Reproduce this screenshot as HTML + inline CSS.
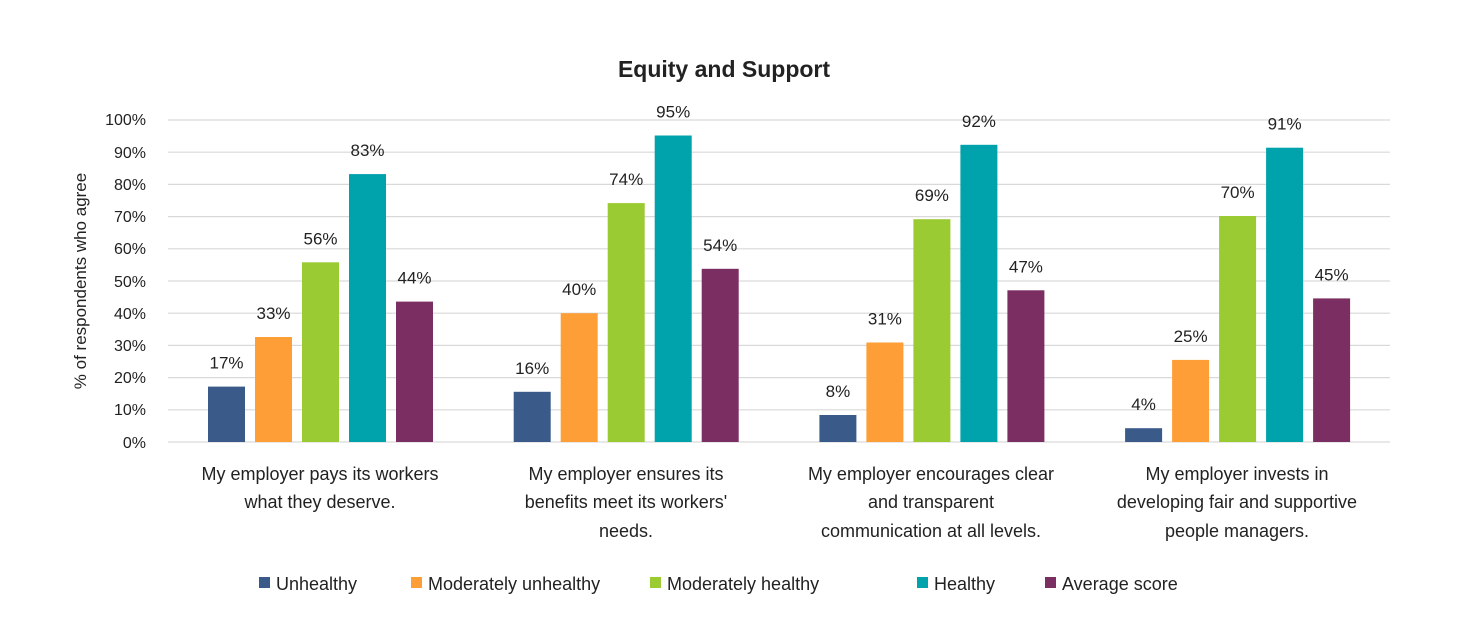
<!DOCTYPE html>
<html><head><meta charset="utf-8"><style>
body{margin:0;background:#fff;}
svg text{font-family:"Liberation Sans",sans-serif;fill:#222;}
</style></head><body>
<svg width="1470" height="634" xmlns="http://www.w3.org/2000/svg">
<rect width="1470" height="634" fill="#fff"/>
<text x="724" y="77" font-size="23" text-anchor="middle" font-weight="bold">Equity and Support</text>
<g stroke="#d9d9d9" stroke-width="1.2">
<line x1="168" x2="1390" y1="120" y2="120"/><line x1="168" x2="1390" y1="152.2" y2="152.2"/>
<line x1="168" x2="1390" y1="184.4" y2="184.4"/><line x1="168" x2="1390" y1="216.6" y2="216.6"/>
<line x1="168" x2="1390" y1="248.8" y2="248.8"/><line x1="168" x2="1390" y1="281" y2="281"/>
<line x1="168" x2="1390" y1="313.2" y2="313.2"/><line x1="168" x2="1390" y1="345.4" y2="345.4"/>
<line x1="168" x2="1390" y1="377.6" y2="377.6"/><line x1="168" x2="1390" y1="409.8" y2="409.8"/>
<line x1="168" x2="1390" y1="442" y2="442"/>
</g>
<g font-size="16" text-anchor="end">
<text x="146" y="125">100%</text><text x="146" y="158">90%</text><text x="146" y="190">80%</text>
<text x="146" y="222">70%</text><text x="146" y="254">60%</text><text x="146" y="287">50%</text>
<text x="146" y="319">40%</text><text x="146" y="351">30%</text><text x="146" y="383">20%</text>
<text x="146" y="415">10%</text><text x="146" y="448">0%</text>
</g>
<text transform="translate(86,281) rotate(-90)" font-size="17" text-anchor="middle">% of respondents who agree</text>
<g>
<rect x="208" y="386.6" width="37" height="55.4" fill="#3a5a8a"/>
<rect x="255" y="337.0" width="37" height="105.0" fill="#fd9e36"/>
<rect x="302" y="262.3" width="37" height="179.7" fill="#9acb32"/>
<rect x="349" y="174.1" width="37" height="267.9" fill="#00a2ab"/>
<rect x="396" y="301.6" width="37" height="140.4" fill="#7a2e62"/>
<rect x="513.7" y="391.8" width="37" height="50.2" fill="#3a5a8a"/>
<rect x="560.7" y="313.2" width="37" height="128.8" fill="#fd9e36"/>
<rect x="607.7" y="203.1" width="37" height="238.9" fill="#9acb32"/>
<rect x="654.7" y="135.5" width="37" height="306.5" fill="#00a2ab"/>
<rect x="701.7" y="268.8" width="37" height="173.2" fill="#7a2e62"/>
<rect x="819.4" y="415.0" width="37" height="27.0" fill="#3a5a8a"/>
<rect x="866.4" y="342.5" width="37" height="99.5" fill="#fd9e36"/>
<rect x="913.4" y="219.2" width="37" height="222.8" fill="#9acb32"/>
<rect x="960.4" y="144.8" width="37" height="297.2" fill="#00a2ab"/>
<rect x="1007.4" y="290.3" width="37" height="151.7" fill="#7a2e62"/>
<rect x="1125.1" y="428.2" width="37" height="13.8" fill="#3a5a8a"/>
<rect x="1172.1" y="359.9" width="37" height="82.1" fill="#fd9e36"/>
<rect x="1219.1" y="216.0" width="37" height="226.0" fill="#9acb32"/>
<rect x="1266.1" y="147.7" width="37" height="294.3" fill="#00a2ab"/>
<rect x="1313.1" y="298.4" width="37" height="143.6" fill="#7a2e62"/>
</g>
<g font-size="17" text-anchor="middle">
<text x="226.5" y="368.6">17%</text><text x="273.5" y="319">33%</text><text x="320.5" y="244.3">56%</text><text x="367.5" y="156.1">83%</text><text x="414.5" y="283.6">44%</text>
<text x="532.2" y="373.8">16%</text><text x="579.2" y="295.2">40%</text><text x="626.2" y="185.1">74%</text><text x="673.2" y="117.5">95%</text><text x="720.2" y="250.8">54%</text>
<text x="837.9" y="397">8%</text><text x="884.9" y="324.5">31%</text><text x="931.9" y="201.2">69%</text><text x="978.9" y="126.8">92%</text><text x="1025.9" y="272.3">47%</text>
<text x="1143.6" y="410.2">4%</text><text x="1190.6" y="341.9">25%</text><text x="1237.6" y="198">70%</text><text x="1284.6" y="129.7">91%</text><text x="1331.6" y="280.4">45%</text>
</g>
<g font-size="18" text-anchor="middle">
<text x="320" y="480">My employer pays its workers</text><text x="320" y="508">what they deserve.</text>
<text x="626" y="480">My employer ensures its</text><text x="626" y="508">benefits meet its workers'</text><text x="626" y="537">needs.</text>
<text x="931" y="480">My employer encourages clear</text><text x="931" y="508">and transparent</text><text x="931" y="537">communication at all levels.</text>
<text x="1237" y="480">My employer invests in</text><text x="1237" y="508">developing fair and supportive</text><text x="1237" y="537">people managers.</text>
</g>
<g font-size="18">
<rect x="259" y="577" width="11" height="11" fill="#3a5a8a"/><text x="276" y="590">Unhealthy</text>
<rect x="411" y="577" width="11" height="11" fill="#fd9e36"/><text x="428" y="590">Moderately unhealthy</text>
<rect x="650" y="577" width="11" height="11" fill="#9acb32"/><text x="667" y="590">Moderately healthy</text>
<rect x="917" y="577" width="11" height="11" fill="#00a2ab"/><text x="934" y="590">Healthy</text>
<rect x="1045" y="577" width="11" height="11" fill="#7a2e62"/><text x="1062" y="590">Average score</text>
</g>
</svg>
</body></html>
